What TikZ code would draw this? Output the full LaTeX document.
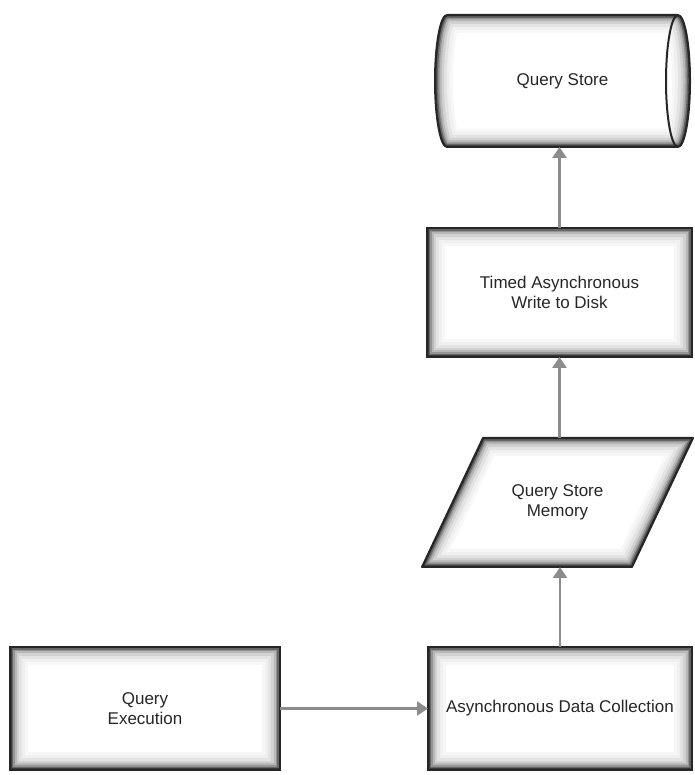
\documentclass[tikz,border=0pt]{standalone}
\usepackage{fontspec}
\setmainfont{Liberation Sans}
\usetikzlibrary{arrows.meta,backgrounds}

\tikzset{
  box/.style={draw=black!85, line width=2pt, inner sep=0pt, outer sep=0pt,
    align=center, text=black!85, font=\fontsize{17}{20}\selectfont},
  ghost/.style={box, draw=none},
  rim/.style={draw=black!85, line width=2pt, line join=round},
  flow/.style={draw=black!45, line width=2.6pt, -{Triangle[width=14pt,length=11pt]}},
}

% inner shading of a closed path
\newcommand{\glow}[1]{%
  \begin{scope}[on background layer]
    \begin{scope}
      \clip #1;
      \foreach \w/\c in {36/3,30/6,24/11,18/18,13/28,9/42,6/60,3/78}
        \draw[line width=\w pt, black!\c, line join=round] #1;
    \end{scope}
  \end{scope}}

\begin{document}
\begin{tikzpicture}[x=1pt,y=1pt]
  \useasboundingbox (0,0) rectangle (694,775);

  % Knoten
  \node[box, minimum width=270pt, minimum height=123pt] (exec) at (145,66.5) {Query\\Execution};
  \node[box, minimum width=264pt, minimum height=123pt] (adc) at (560,66.5) {Asynchronous Data Collection};
  \node[ghost, minimum width=271pt, minimum height=129pt] (mem) at (557.5,272.5) {Query Store\\Memory};
  \node[box, minimum width=265pt, minimum height=129pt] (timed) at (559.5,482.5) {Timed Asynchronous\\Write to Disk};
  \node[ghost, minimum width=255pt, minimum height=132pt] (store) at (562.5,694) {Query Store};

  % Parallelogramm
  \coordinate (mbl) at (mem.south west);
  \coordinate (mtl) at ([xshift=61pt]mem.north west);
  \coordinate (mtr) at (mem.north east);
  \coordinate (mbr) at ([xshift=-61pt]mem.south east);
  \glow{(mbl) -- (mtl) -- (mtr) -- (mbr) -- cycle}
  \draw[rim] (mbl) -- (mtl) -- (mtr) -- (mbr) -- cycle;

  % Zylinder
  \coordinate (stl) at ([xshift=12pt]store.north west);
  \coordinate (str) at ([xshift=-12pt]store.north east);
  \coordinate (sbl) at ([xshift=12pt]store.south west);
  \glow{(stl) -- (str) arc[start angle=90, end angle=-90, x radius=12pt, y radius=66pt]
    -- (sbl) arc[start angle=270, end angle=90, x radius=12pt, y radius=66pt] -- cycle}
  \draw[rim] (stl) -- (str) arc[start angle=90, end angle=-90, x radius=12pt, y radius=66pt]
    -- (sbl) arc[start angle=270, end angle=90, x radius=12pt, y radius=66pt] -- cycle;
  \draw[rim] (str) arc[start angle=90, end angle=270, x radius=12pt, y radius=66pt];

  % Schattierung der Kästen
  \glow{(exec.south west) rectangle (exec.north east)}
  \glow{(adc.south west) rectangle (adc.north east)}
  \glow{(timed.south west) rectangle (timed.north east)}

  % Pfeile
  \draw[flow] (exec.east) -- (adc.west);
  \draw[flow] (adc.north) -- (adc.north |- mem.south);
  \draw[flow] (timed.south |- mem.north) -- (timed.south);
  \draw[flow] (timed.north) -- (timed.north |- store.south);
\end{tikzpicture}
\end{document}
